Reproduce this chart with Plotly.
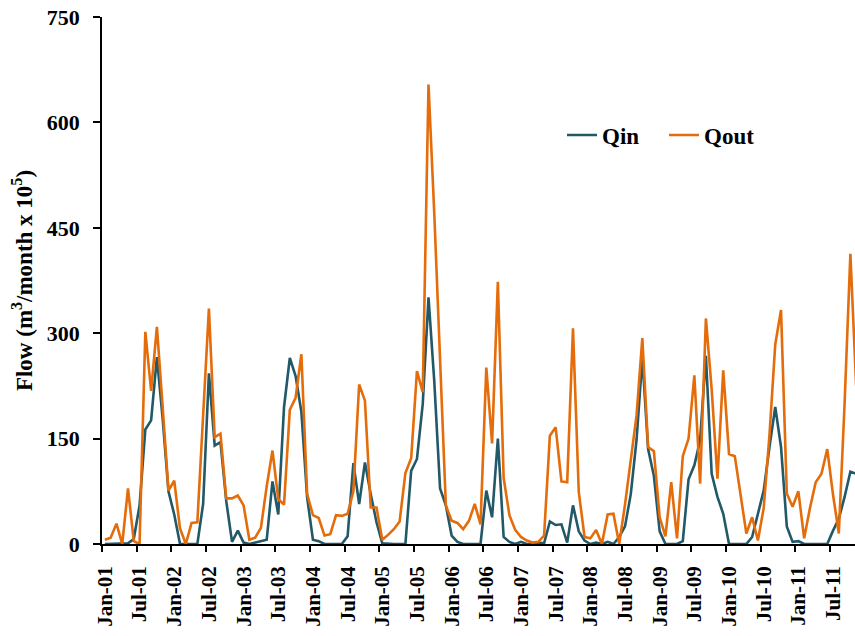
import plotly.graph_objects as go

# Monthly flow, Jan-2001 .. Nov-2011 (units: m3/month x 1e5)
qin = [
    0, 0, 0, 0, 1, 7, 55, 163, 176, 266, 178, 75,
    42, 0, 0, 0, 0, 57, 243, 140, 145, 61, 3, 19,
    2, 0, 2, 4, 6, 89, 42, 195, 265, 239, 188, 66,
    6, 4, 0, 0, 0, 0, 11, 115, 57, 116, 71, 31,
    1, 0, 0, 0, 0, 104, 121, 199, 351, 231, 79, 55,
    12, 3, 0, 0, 0, 0, 76, 38, 150, 10, 3, 0,
    3, 0, 0, 2, 1, 32, 27, 28, 2, 55, 18, 5,
    0, 2, 0, 3, 0, 10, 25, 71, 148, 265, 135, 97,
    18, 0, 0, 0, 4, 92, 112, 148, 268, 100, 67, 43,
    0, 0, 0, 0, 10, 41, 76, 138, 195, 138, 25, 3,
    4, 0, 0, 0, 0, 0, 19, 36, 67, 103, 100,
]
qout = [
    6, 9, 29, 0, 79, 4, 0, 302, 218, 309, 195, 76,
    90, 22, 0, 30, 31, 178, 335, 152, 157, 65, 65, 69,
    55, 6, 9, 23, 82, 133, 64, 56, 191, 208, 270, 71,
    41, 37, 12, 14, 41, 40, 43, 75, 227, 204, 52, 52,
    6, 13, 21, 32, 101, 122, 246, 216, 654, 470, 270, 55,
    33, 30, 21, 33, 57, 28, 251, 143, 373, 94, 41, 20,
    10, 5, 2, 3, 12, 154, 166, 89, 88, 307, 74, 10,
    8, 20, 0, 42, 43, 0, 56, 122, 183, 293, 138, 132,
    38, 11, 88, 8, 125, 150, 240, 86, 321, 220, 93, 247,
    128, 125, 70, 15, 38, 5, 51, 155, 284, 333, 72, 53,
    75, 8, 51, 88, 100, 135, 70, 15, 200, 413, 225,
]
tick_labels = [
    "Jan-01", "Jul-01", "Jan-02", "Jul-02", "Jan-03", "Jul-03",
    "Jan-04", "Jul-04", "Jan-05", "Jul-05", "Jan-06", "Jul-06",
    "Jan-07", "Jul-07", "Jan-08", "Jul-08", "Jan-09", "Jul-09",
    "Jan-10", "Jul-10", "Jan-11", "Jul-11",
]

months = list(range(len(qin)))
# tick marks sit on month boundaries, one every six months
tick_pos = [6 * k - 0.5 for k in range(len(tick_labels))]

FONT = "Liberation Serif"
C_IN = "#215968"
C_OUT = "#E46C0A"

fig = go.Figure()
fig.add_trace(go.Scatter(x=months, y=qin, mode="lines", name="Qin",
                         line=dict(color=C_IN, width=2.6), legend="legend"))
fig.add_trace(go.Scatter(x=months, y=qout, mode="lines", name="Qout",
                         line=dict(color=C_OUT, width=2.6), legend="legend2"))

W, H = 855, 636
ml, mr, mt, mb = 102, 0, 17, 92
pw, ph = W - ml - mr, H - mt - mb

def px_x(p):
    return (p - ml) / pw

def px_y(p):
    return (H - mb - p) / ph

legend_common = dict(
    orientation="h", xanchor="left", yanchor="middle",
    font=dict(family=FONT, size=23, color="black", weight="bold"),
    bgcolor="rgba(0,0,0,0)", borderwidth=0, itemwidth=30,
)

fig.update_layout(
    width=W, height=H,
    margin=dict(l=ml, r=mr, t=mt, b=mb, pad=0),
    paper_bgcolor="white", plot_bgcolor="white",
    font=dict(family=FONT, color="black"),
    showlegend=True,
    legend=dict(x=px_x(562), y=px_y(135), **legend_common),
    legend2=dict(x=px_x(664), y=px_y(135), **legend_common),
    xaxis=dict(
        range=[-0.5, 129.8], tickmode="array", tickvals=tick_pos, ticktext=tick_labels,
        tickangle=-90, ticks="outside", ticklen=6, tickwidth=1.5, tickcolor="black",
        showline=True, linecolor="black", linewidth=1.5, showgrid=False, zeroline=False,
        tickfont=dict(family=FONT, size=21, color="black", weight="bold"),
        ticklabelshift=3, ticklabelstandoff=6, layer="below traces",
    ),
    yaxis=dict(
        range=[0, 750], tickmode="array", tickvals=[0, 150, 300, 450, 600, 750],
        ticks="outside", ticklen=7, tickwidth=1.5, tickcolor="black",
        showline=True, linecolor="black", linewidth=1.5, showgrid=False, zeroline=False,
        tickfont=dict(family=FONT, size=22, color="black", weight="bold"),
        ticklabelstandoff=9, layer="below traces",
        title=dict(text="Flow (m<sup>3</sup>/month x 10<sup>5</sup>)",
                   font=dict(family=FONT, size=23, color="black", weight="bold"),
                   standoff=8),
    ),
)

fig.write_html("out.html")
